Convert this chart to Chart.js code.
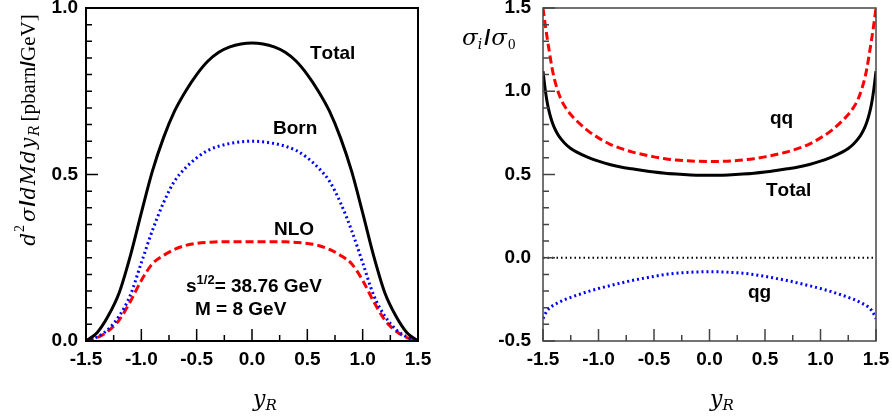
<!DOCTYPE html>
<html>
<head>
<meta charset="utf-8">
<script src="https://cdn.jsdelivr.net/npm/chart.js@4/dist/chart.umd.min.js"></script>
<style>
html, body { margin: 0; padding: 0; background: #fff; }
#wrap { position: relative; width: 892px; height: 417px; }
#c1 { position: absolute; left: 0; top: 0; }
#c2 { position: absolute; left: 440px; top: 0; }
</style>
</head>
<body>
<div id="wrap">
  <canvas id="c1" width="440" height="417"></canvas>
  <canvas id="c2" width="452" height="417"></canvas>
</div>
<script>
const SANS = '"Liberation Sans", Arial, sans-serif';
const SERIF = '"Liberation Serif", "Times New Roman", serif';
const MATH = '"DejaVu Serif", serif';

// ---- left panel: d2sigma/dMdy vs y_R
let yLeft = [-1.5,-1.4,-1.3,-1.2,-1.1,-1.0,-0.9,-0.8,-0.7,-0.6,-0.5,-0.4,-0.3,-0.2,-0.1,0,
             0.1,0.2,0.3,0.4,0.5,0.6,0.7,0.8,0.9,1.0,1.1,1.2,1.3,1.4,1.5];
let totalLeft = [0,0.025,0.075,0.145,0.255,0.385,0.51,0.61,0.69,0.75,0.80,0.84,0.867,0.883,0.892,0.895,
                 0.892,0.883,0.867,0.84,0.80,0.75,0.69,0.61,0.51,0.385,0.255,0.145,0.075,0.025,0];
let bornLeft = [0,0.012,0.035,0.075,0.137,0.235,0.332,0.415,0.48,0.52,0.55,0.572,0.585,0.593,0.598,0.6,
                0.598,0.593,0.585,0.572,0.55,0.52,0.48,0.415,0.332,0.235,0.137,0.075,0.035,0.012,0];
let nloLeft = [0,0.01,0.03,0.063,0.118,0.182,0.232,0.257,0.275,0.287,0.293,0.296,0.298,0.298,0.298,0.298,
               0.298,0.298,0.298,0.296,0.293,0.287,0.275,0.257,0.232,0.182,0.118,0.063,0.03,0.01,0];

// ---- right panel: sigma_i/sigma_0 vs y_R
let yRight = [-1.5,-1.48,-1.46,-1.44,-1.42,-1.4,-1.37,-1.34,-1.3,-1.25,-1.2,-1.1,-1.0,-0.9,-0.8,-0.7,-0.6,-0.5,-0.4,-0.3,-0.2,-0.1,0,
              0.1,0.2,0.3,0.4,0.5,0.6,0.7,0.8,0.9,1.0,1.1,1.2,1.25,1.3,1.34,1.37,1.4,1.42,1.44,1.46,1.48,1.5];
let qqRight = [1.5,1.40,1.31,1.225,1.145,1.08,1.01,0.955,0.905,0.86,0.825,0.765,0.72,0.683,0.657,0.636,0.62,0.606,0.595,0.587,0.582,0.579,0.578,
               0.579,0.582,0.587,0.595,0.606,0.62,0.636,0.657,0.683,0.72,0.765,0.825,0.86,0.905,0.955,1.01,1.08,1.145,1.225,1.31,1.40,1.5];
let totalRight = [1.12,1.01,0.925,0.865,0.82,0.785,0.745,0.715,0.685,0.656,0.636,0.605,0.58,0.56,0.545,0.534,0.524,0.515,0.508,0.503,0.499,0.496,0.495,
                  0.496,0.499,0.503,0.508,0.515,0.524,0.534,0.545,0.56,0.58,0.605,0.636,0.656,0.685,0.715,0.745,0.785,0.82,0.865,0.925,1.01,1.12];
let qgRight = [-0.365,-0.337,-0.316,-0.301,-0.291,-0.283,-0.272,-0.262,-0.25,-0.238,-0.226,-0.204,-0.185,-0.168,-0.152,-0.137,-0.124,-0.112,-0.101,-0.093,-0.088,-0.085,-0.084,
               -0.085,-0.088,-0.093,-0.101,-0.112,-0.124,-0.137,-0.152,-0.168,-0.185,-0.204,-0.226,-0.238,-0.25,-0.262,-0.272,-0.283,-0.291,-0.301,-0.316,-0.337,-0.365];
let zeroX = [-1.5, 1.5];
let zeroY = [0, 0];

function pts(xs, ys) {
    return xs.map(function(x, i) { return { x: x, y: ys[i] }; });
}

function drawRich(ctx, parts, x, y, align) {
    let total = 0;
    parts.forEach(function(p) {
        ctx.font = p.f;
        for (const ch of p.t) total += ctx.measureText(ch).width + (p.ls || 0);
    });
    let cx = align === 'center' ? x - total / 2 : x;
    parts.forEach(function(p) {
        ctx.font = p.f;
        for (const ch of p.t) {
            ctx.fillText(ch, cx, y + (p.dy || 0));
            cx += ctx.measureText(ch).width + (p.ls || 0);
        }
    });
}

const notes = {
    id: 'notes',
    afterDraw(chart, args, o) {
        const ctx = chart.ctx;
        ctx.save();
        ctx.fillStyle = '#000';
        ctx.textBaseline = 'alphabetic';
        ctx.textAlign = 'left';
        o.items.forEach(function(it) {
            if (it.rotate) {
                ctx.save();
                ctx.translate(it.x, it.y);
                ctx.rotate(-Math.PI / 2);
                drawRich(ctx, it.parts, 0, 0, 'center');
                ctx.restore();
            } else {
                drawRich(ctx, it.parts, it.x, it.y, it.align);
            }
        });
        ctx.restore();
    }
};

const frameTicks = {
    id: 'frameTicks',
    afterDatasetsDraw(chart, args, o) {
        const ctx = chart.ctx, a = chart.chartArea;
        const xs = chart.scales.x, ys = chart.scales.y;
        ctx.save();
        ctx.strokeStyle = o.color;
        ctx.lineWidth = o.tickWidth;
        ctx.beginPath();
        xs.ticks.forEach(function(t) {
            const px = xs.getPixelForValue(t.value);
            const len = t.label ? o.major : o.minor;
            ctx.moveTo(px, a.bottom);
            ctx.lineTo(px, a.bottom - len);
        });
        ys.ticks.forEach(function(t) {
            const py = ys.getPixelForValue(t.value);
            const len = t.label ? o.major : o.minor;
            ctx.moveTo(a.left, py);
            ctx.lineTo(a.left + len, py);
        });
        ctx.stroke();
        ctx.lineWidth = o.frameWidth;
        ctx.strokeRect(a.left, a.top, a.right - a.left, a.bottom - a.top);
        ctx.restore();
    }
};

function majorLabel(v) {
    const r = v / 0.5;
    if (Math.abs(r - Math.round(r)) < 1e-6) return (Math.round(r) * 0.5).toFixed(1);
    return '';
}

function axes(yMin, yMax, yStep, yWidth, yPad) {
    return {
        x: {
            type: 'linear', min: -1.5, max: 1.5,
            grid: { display: false, drawTicks: false },
            border: { display: false },
            ticks: {
                stepSize: 0.25, autoSkip: false, maxRotation: 0, padding: 7,
                color: '#000', font: { family: SANS, size: 19, weight: 'bold' },
                callback: majorLabel
            },
            afterFit: function(s) { s.height = 76; s.paddingLeft = 0; s.paddingRight = 0; }
        },
        y: {
            type: 'linear', min: yMin, max: yMax,
            grid: { display: false, drawTicks: false },
            border: { display: false },
            ticks: {
                stepSize: yStep, autoSkip: false, padding: yPad,
                color: '#000', font: { family: SANS, size: 19, weight: 'bold' },
                callback: majorLabel
            },
            afterFit: function(s) { s.width = yWidth; s.paddingTop = 0; s.paddingBottom = 0; }
        }
    };
}

const italic = function(size) { return 'italic ' + size + 'px ' + MATH; };
const bold = function(size) { return 'bold ' + size + 'px ' + SANS; };

var chart1 = new Chart(document.getElementById('c1'), {
    type: 'line',
    data: {
        datasets: [
            { label: 'Total', data: pts(yLeft, totalLeft), borderColor: '#000', borderWidth: 3 },
            { label: 'Born', data: pts(yLeft, bornLeft), borderColor: '#0000ff', borderWidth: 3, borderDash: [2, 3] },
            { label: 'NLO', data: pts(yLeft, nloLeft), borderColor: '#ff0000', borderWidth: 3, borderDash: [8, 4] }
        ]
    },
    options: {
        responsive: false, animation: false, devicePixelRatio: 1,
        layout: { padding: { left: 0, right: 22, top: 8, bottom: 0 } },
        elements: { point: { radius: 0 }, line: { cubicInterpolationMode: 'monotone', fill: false } },
        scales: axes(0, 1, 0.05, 86, 8),
        plugins: {
            legend: { display: false }, tooltip: { enabled: false },
            frameTicks: { color: '#000', tickWidth: 1.5, frameWidth: 2, major: 12, minor: 6 },
            notes: { items: [
                { x: 310, y: 59, parts: [{ t: 'Total', f: bold(19) }] },
                { x: 273, y: 134, parts: [{ t: 'Born', f: bold(19) }] },
                { x: 274, y: 235, parts: [{ t: 'NLO', f: bold(19) }] },
                { x: 186, y: 292, parts: [{ t: 's', f: bold(19) }, { t: '1/2', f: bold(13), dy: -8 }, { t: '= 38.76 GeV', f: bold(19) }] },
                { x: 195, y: 315, parts: [{ t: 'M = 8 GeV', f: bold(19) }] },
                { x: 253, y: 406, parts: [{ t: 'y', f: italic(22) }, { t: 'R', f: italic(15), dy: 4 }] },
                { x: 35, y: 130, rotate: true, parts: [
                    { t: 'd', f: italic(20), ls: 1 }, { t: '2', f: '14px ' + SERIF, dy: -11, ls: 3 },
                    { t: 'σ', f: italic(21), ls: 1 }, { t: '/', f: bold(22), ls: 1 },
                    { t: 'dMdy', f: italic(20), ls: 1.5 }, { t: 'R', f: italic(14), dy: 4, ls: 4 },
                    { t: '[pbarn', f: '21px ' + SERIF }, { t: '/', f: bold(21) }, { t: 'GeV]', f: '21px ' + SERIF }
                ] }
            ] }
        }
    },
    plugins: [frameTicks, notes]
});

var chart2 = new Chart(document.getElementById('c2'), {
    type: 'line',
    data: {
        datasets: [
            { label: 'zero', data: pts(zeroX, zeroY), borderColor: '#000', borderWidth: 2, borderDash: [1.5, 3] },
            { label: 'Total', data: pts(yRight, totalRight), borderColor: '#000', borderWidth: 3 },
            { label: 'qq', data: pts(yRight, qqRight), borderColor: '#ff0000', borderWidth: 3, borderDash: [8, 4] },
            { label: 'qg', data: pts(yRight, qgRight), borderColor: '#0000ff', borderWidth: 3, borderDash: [2, 3] }
        ]
    },
    options: {
        responsive: false, animation: false, devicePixelRatio: 1,
        layout: { padding: { left: 0, right: 16, top: 8, bottom: 0 } },
        elements: { point: { radius: 0 }, line: { cubicInterpolationMode: 'monotone', fill: false } },
        scales: axes(-0.5, 1.5, 0.1, 103, 12),
        plugins: {
            legend: { display: false }, tooltip: { enabled: false },
            frameTicks: { color: '#444', tickWidth: 1.5, frameWidth: 1.5, major: 12, minor: 6 },
            notes: { items: [
                { x: 330, y: 124, parts: [{ t: 'qq', f: bold(19) }] },
                { x: 326, y: 196, parts: [{ t: 'Total', f: bold(19) }] },
                { x: 308, y: 298, parts: [{ t: 'qg', f: bold(19) }] },
                { x: 270, y: 406, parts: [{ t: 'y', f: italic(22) }, { t: 'R', f: italic(15), dy: 4 }] },
                { x: 22, y: 45, parts: [
                    { t: 'σ', f: italic(23), ls: 0 }, { t: 'i', f: italic(14), dy: 4, ls: 2 },
                    { t: '/', f: bold(22), ls: 1 },
                    { t: 'σ', f: italic(23), ls: 1 }, { t: '0', f: '15px ' + SERIF, dy: 4 }
                ] }
            ] }
        }
    },
    plugins: [frameTicks, notes]
});
</script>
</body>
</html>
